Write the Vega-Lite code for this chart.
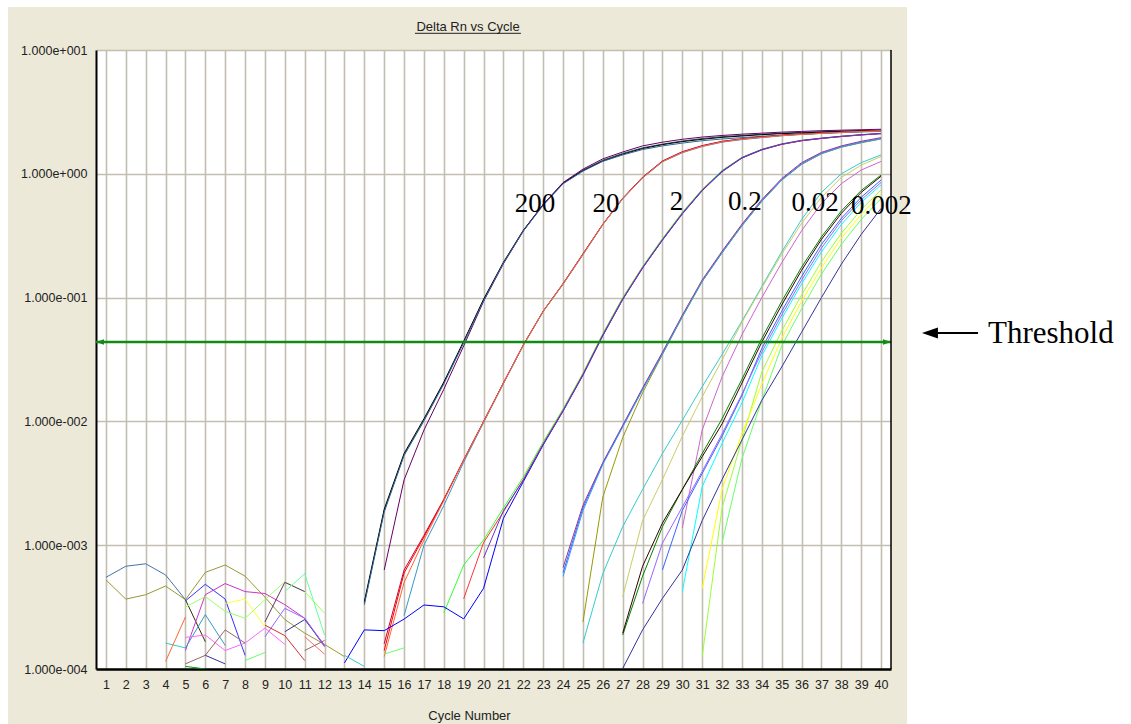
{
  "$schema": "https://vega.github.io/schema/vega-lite/v6.json",
  "autosize": "none",
  "width": 795,
  "height": 619,
  "padding": {"left": 96, "top": 50, "right": 240, "bottom": 55},
  "config": {
    "background": "#ECE9D8",
    "view": {"fill": "white", "stroke": null},
    "axis": {
      "grid": true,
      "gridColor": "#C2BEB2",
      "gridWidth": 1.6,
      "ticks": false,
      "domainColor": "black",
      "labelFont": "Liberation Sans",
      "labelFontSize": 12.5,
      "labelColor": "#222222",
      "titleFont": "Liberation Sans",
      "titleFontSize": 13,
      "titleFontWeight": "normal",
      "titleColor": "#222222"
    }
  },
  "resolve": {"axis": {"x": "independent", "y": "independent"}},
  "datasets": {
    "wells": [
      {"well":"A1","cycle":14,"dRn":3.4e-4},{"well":"A1","cycle":15,"dRn":1.9e-3},{"well":"A1","cycle":16,"dRn":5.37e-3},{"well":"A1","cycle":17,"dRn":0.0102},{"well":"A1","cycle":18,"dRn":0.0204},{"well":"A1","cycle":19,"dRn":0.0437},{"well":"A1","cycle":20,"dRn":0.0955},{"well":"A1","cycle":21,"dRn":0.191},{"well":"A1","cycle":22,"dRn":0.347},{"well":"A1","cycle":23,"dRn":0.562},{"well":"A1","cycle":24,"dRn":0.841},{"well":"A1","cycle":25,"dRn":1.072},{"well":"A1","cycle":26,"dRn":1.288},{"well":"A1","cycle":27,"dRn":1.462},{"well":"A1","cycle":28,"dRn":1.622},{"well":"A1","cycle":29,"dRn":1.738},{"well":"A1","cycle":30,"dRn":1.841},{"well":"A1","cycle":31,"dRn":1.928},{"well":"A1","cycle":32,"dRn":1.995},{"well":"A1","cycle":33,"dRn":2.042},{"well":"A1","cycle":34,"dRn":2.089},{"well":"A1","cycle":35,"dRn":2.128},{"well":"A1","cycle":36,"dRn":2.163},{"well":"A1","cycle":37,"dRn":2.188},{"well":"A1","cycle":38,"dRn":2.213},{"well":"A1","cycle":39,"dRn":2.239},{"well":"A1","cycle":40,"dRn":2.259},
      {"well":"A2","cycle":14,"dRn":3.5e-4},{"well":"A2","cycle":15,"dRn":1.95e-3},{"well":"A2","cycle":16,"dRn":5.5e-3},{"well":"A2","cycle":17,"dRn":0.0105},{"well":"A2","cycle":18,"dRn":0.0208},{"well":"A2","cycle":19,"dRn":0.0445},{"well":"A2","cycle":20,"dRn":0.097},{"well":"A2","cycle":21,"dRn":0.193},{"well":"A2","cycle":22,"dRn":0.35},{"well":"A2","cycle":23,"dRn":0.565},{"well":"A2","cycle":24,"dRn":0.84},{"well":"A2","cycle":25,"dRn":1.06},{"well":"A2","cycle":26,"dRn":1.27},{"well":"A2","cycle":27,"dRn":1.44},{"well":"A2","cycle":28,"dRn":1.6},{"well":"A2","cycle":29,"dRn":1.72},{"well":"A2","cycle":30,"dRn":1.82},{"well":"A2","cycle":31,"dRn":1.9},{"well":"A2","cycle":32,"dRn":1.97},{"well":"A2","cycle":33,"dRn":2.02},{"well":"A2","cycle":34,"dRn":2.07},{"well":"A2","cycle":35,"dRn":2.11},{"well":"A2","cycle":36,"dRn":2.14},{"well":"A2","cycle":37,"dRn":2.17},{"well":"A2","cycle":38,"dRn":2.2},{"well":"A2","cycle":39,"dRn":2.22},{"well":"A2","cycle":40,"dRn":2.24},
      {"well":"A3","cycle":15,"dRn":6.3e-4},{"well":"A3","cycle":16,"dRn":3.37e-3},{"well":"A3","cycle":17,"dRn":8.5e-3},{"well":"A3","cycle":18,"dRn":0.0182},{"well":"A3","cycle":19,"dRn":0.0407},{"well":"A3","cycle":20,"dRn":0.0933},{"well":"A3","cycle":21,"dRn":0.188},{"well":"A3","cycle":22,"dRn":0.345},{"well":"A3","cycle":23,"dRn":0.565},{"well":"A3","cycle":24,"dRn":0.85},{"well":"A3","cycle":25,"dRn":1.09},{"well":"A3","cycle":26,"dRn":1.32},{"well":"A3","cycle":27,"dRn":1.5},{"well":"A3","cycle":28,"dRn":1.68},{"well":"A3","cycle":29,"dRn":1.8},{"well":"A3","cycle":30,"dRn":1.9},{"well":"A3","cycle":31,"dRn":1.98},{"well":"A3","cycle":32,"dRn":2.04},{"well":"A3","cycle":33,"dRn":2.09},{"well":"A3","cycle":34,"dRn":2.13},{"well":"A3","cycle":35,"dRn":2.17},{"well":"A3","cycle":36,"dRn":2.2},{"well":"A3","cycle":37,"dRn":2.23},{"well":"A3","cycle":38,"dRn":2.25},{"well":"A3","cycle":39,"dRn":2.27},{"well":"A3","cycle":40,"dRn":2.29},
      {"well":"A4","cycle":14,"dRn":3.3e-4},{"well":"A4","cycle":15,"dRn":1.85e-3},{"well":"A4","cycle":16,"dRn":5.3e-3},{"well":"A4","cycle":17,"dRn":0.0101},{"well":"A4","cycle":18,"dRn":0.0201},{"well":"A4","cycle":19,"dRn":0.0432},{"well":"A4","cycle":20,"dRn":0.094},{"well":"A4","cycle":21,"dRn":0.19},{"well":"A4","cycle":22,"dRn":0.345},{"well":"A4","cycle":23,"dRn":0.556},{"well":"A4","cycle":24,"dRn":0.83},{"well":"A4","cycle":25,"dRn":1.05},{"well":"A4","cycle":26,"dRn":1.26},{"well":"A4","cycle":27,"dRn":1.42},{"well":"A4","cycle":28,"dRn":1.57},{"well":"A4","cycle":29,"dRn":1.68},{"well":"A4","cycle":30,"dRn":1.77},{"well":"A4","cycle":31,"dRn":1.85},{"well":"A4","cycle":32,"dRn":1.91},{"well":"A4","cycle":33,"dRn":1.96},{"well":"A4","cycle":34,"dRn":2.01},{"well":"A4","cycle":35,"dRn":2.05},{"well":"A4","cycle":36,"dRn":2.09},{"well":"A4","cycle":37,"dRn":2.12},{"well":"A4","cycle":38,"dRn":2.15},{"well":"A4","cycle":39,"dRn":2.18},{"well":"A4","cycle":40,"dRn":2.2},
      {"well":"B1","cycle":15,"dRn":1.41e-4},{"well":"B1","cycle":16,"dRn":5.96e-4},{"well":"B1","cycle":17,"dRn":1.164e-3},{"well":"B1","cycle":18,"dRn":2.317e-3},{"well":"B1","cycle":19,"dRn":4.875e-3},{"well":"B1","cycle":20,"dRn":9.95e-3},{"well":"B1","cycle":21,"dRn":0.0204},{"well":"B1","cycle":22,"dRn":0.0414},{"well":"B1","cycle":23,"dRn":0.0776},{"well":"B1","cycle":24,"dRn":0.129},{"well":"B1","cycle":25,"dRn":0.224},{"well":"B1","cycle":26,"dRn":0.39},{"well":"B1","cycle":27,"dRn":0.631},{"well":"B1","cycle":28,"dRn":0.933},{"well":"B1","cycle":29,"dRn":1.259},{"well":"B1","cycle":30,"dRn":1.496},{"well":"B1","cycle":31,"dRn":1.679},{"well":"B1","cycle":32,"dRn":1.82},{"well":"B1","cycle":33,"dRn":1.905},{"well":"B1","cycle":34,"dRn":1.972},{"well":"B1","cycle":35,"dRn":2.042},{"well":"B1","cycle":36,"dRn":2.089},{"well":"B1","cycle":37,"dRn":2.128},{"well":"B1","cycle":38,"dRn":2.168},{"well":"B1","cycle":39,"dRn":2.198},{"well":"B1","cycle":40,"dRn":2.228},
      {"well":"B2","cycle":15,"dRn":1.6e-4},{"well":"B2","cycle":16,"dRn":6.3e-4},{"well":"B2","cycle":17,"dRn":1.2e-3},{"well":"B2","cycle":18,"dRn":2.35e-3},{"well":"B2","cycle":19,"dRn":4.9e-3},{"well":"B2","cycle":20,"dRn":0.01},{"well":"B2","cycle":21,"dRn":0.0205},{"well":"B2","cycle":22,"dRn":0.0415},{"well":"B2","cycle":23,"dRn":0.0778},{"well":"B2","cycle":24,"dRn":0.13},{"well":"B2","cycle":25,"dRn":0.226},{"well":"B2","cycle":26,"dRn":0.392},{"well":"B2","cycle":27,"dRn":0.635},{"well":"B2","cycle":28,"dRn":0.94},{"well":"B2","cycle":29,"dRn":1.27},{"well":"B2","cycle":30,"dRn":1.51},{"well":"B2","cycle":31,"dRn":1.69},{"well":"B2","cycle":32,"dRn":1.83},{"well":"B2","cycle":33,"dRn":1.92},{"well":"B2","cycle":34,"dRn":1.99},{"well":"B2","cycle":35,"dRn":2.05},{"well":"B2","cycle":36,"dRn":2.1},{"well":"B2","cycle":37,"dRn":2.14},{"well":"B2","cycle":38,"dRn":2.17},{"well":"B2","cycle":39,"dRn":2.2},{"well":"B2","cycle":40,"dRn":2.23},
      {"well":"B3","cycle":16,"dRn":2.7e-4},{"well":"B3","cycle":17,"dRn":1.0e-3},{"well":"B3","cycle":18,"dRn":2.09e-3},{"well":"B3","cycle":19,"dRn":4.68e-3},{"well":"B3","cycle":20,"dRn":9.77e-3},{"well":"B3","cycle":21,"dRn":0.0202},{"well":"B3","cycle":22,"dRn":0.041},{"well":"B3","cycle":23,"dRn":0.0772},{"well":"B3","cycle":24,"dRn":0.128},{"well":"B3","cycle":25,"dRn":0.222},{"well":"B3","cycle":26,"dRn":0.388},{"well":"B3","cycle":27,"dRn":0.627},{"well":"B3","cycle":28,"dRn":0.925},{"well":"B3","cycle":29,"dRn":1.25},{"well":"B3","cycle":30,"dRn":1.48},{"well":"B3","cycle":31,"dRn":1.66},{"well":"B3","cycle":32,"dRn":1.8},{"well":"B3","cycle":33,"dRn":1.89},{"well":"B3","cycle":34,"dRn":1.96},{"well":"B3","cycle":35,"dRn":2.03},{"well":"B3","cycle":36,"dRn":2.08},{"well":"B3","cycle":37,"dRn":2.12},{"well":"B3","cycle":38,"dRn":2.16},{"well":"B3","cycle":39,"dRn":2.19},{"well":"B3","cycle":40,"dRn":2.22},
      {"well":"B4","cycle":15,"dRn":1.26e-4},{"well":"B4","cycle":16,"dRn":5.0e-4},{"well":"B4","cycle":17,"dRn":1.1e-3},{"well":"B4","cycle":18,"dRn":2.29e-3},{"well":"B4","cycle":19,"dRn":4.85e-3},{"well":"B4","cycle":20,"dRn":9.9e-3},{"well":"B4","cycle":21,"dRn":0.0203},{"well":"B4","cycle":22,"dRn":0.0412},{"well":"B4","cycle":23,"dRn":0.0774},{"well":"B4","cycle":24,"dRn":0.129},{"well":"B4","cycle":25,"dRn":0.223},{"well":"B4","cycle":26,"dRn":0.389},{"well":"B4","cycle":27,"dRn":0.63},{"well":"B4","cycle":28,"dRn":0.93},{"well":"B4","cycle":29,"dRn":1.255},{"well":"B4","cycle":30,"dRn":1.49},{"well":"B4","cycle":31,"dRn":1.67},{"well":"B4","cycle":32,"dRn":1.81},{"well":"B4","cycle":33,"dRn":1.9},{"well":"B4","cycle":34,"dRn":1.97},{"well":"B4","cycle":35,"dRn":2.03},{"well":"B4","cycle":36,"dRn":2.08},{"well":"B4","cycle":37,"dRn":2.12},{"well":"B4","cycle":38,"dRn":2.16},{"well":"B4","cycle":39,"dRn":2.19},{"well":"B4","cycle":40,"dRn":2.22},
      {"well":"D1","cycle":18,"dRn":2.84e-4},{"well":"D1","cycle":19,"dRn":6.92e-4},{"well":"D1","cycle":20,"dRn":1.1e-3},{"well":"D1","cycle":21,"dRn":2.0e-3},{"well":"D1","cycle":22,"dRn":3.55e-3},{"well":"D1","cycle":23,"dRn":6.84e-3},{"well":"D1","cycle":24,"dRn":0.0126},{"well":"D1","cycle":25,"dRn":0.0245},{"well":"D1","cycle":26,"dRn":0.0512},{"well":"D1","cycle":27,"dRn":0.1},{"well":"D1","cycle":28,"dRn":0.178},{"well":"D1","cycle":29,"dRn":0.3},{"well":"D1","cycle":30,"dRn":0.488},{"well":"D1","cycle":31,"dRn":0.75},{"well":"D1","cycle":32,"dRn":1.065},{"well":"D1","cycle":33,"dRn":1.36},{"well":"D1","cycle":34,"dRn":1.58},{"well":"D1","cycle":35,"dRn":1.745},{"well":"D1","cycle":36,"dRn":1.865},{"well":"D1","cycle":37,"dRn":1.94},{"well":"D1","cycle":38,"dRn":2.01},{"well":"D1","cycle":39,"dRn":2.07},{"well":"D1","cycle":40,"dRn":2.12},
      {"well":"D2","cycle":13,"dRn":1.12e-4},{"well":"D2","cycle":14,"dRn":2.07e-4},{"well":"D2","cycle":15,"dRn":2.04e-4},{"well":"D2","cycle":16,"dRn":2.53e-4},{"well":"D2","cycle":17,"dRn":3.29e-4},{"well":"D2","cycle":18,"dRn":3.18e-4},{"well":"D2","cycle":19,"dRn":2.54e-4},{"well":"D2","cycle":20,"dRn":4.49e-4},{"well":"D2","cycle":21,"dRn":1.65e-3},{"well":"D2","cycle":22,"dRn":3.26e-3},{"well":"D2","cycle":23,"dRn":6.45e-3},{"well":"D2","cycle":24,"dRn":0.0121},{"well":"D2","cycle":25,"dRn":0.0236},{"well":"D2","cycle":26,"dRn":0.0492},{"well":"D2","cycle":27,"dRn":0.0965},{"well":"D2","cycle":28,"dRn":0.173},{"well":"D2","cycle":29,"dRn":0.291},{"well":"D2","cycle":30,"dRn":0.474},{"well":"D2","cycle":31,"dRn":0.73},{"well":"D2","cycle":32,"dRn":1.04},{"well":"D2","cycle":33,"dRn":1.34},{"well":"D2","cycle":34,"dRn":1.56},{"well":"D2","cycle":35,"dRn":1.73},{"well":"D2","cycle":36,"dRn":1.85},{"well":"D2","cycle":37,"dRn":1.93},{"well":"D2","cycle":38,"dRn":2.0},{"well":"D2","cycle":39,"dRn":2.06},{"well":"D2","cycle":40,"dRn":2.11},
      {"well":"D3","cycle":19,"dRn":3.7e-4},{"well":"D3","cycle":20,"dRn":1.05e-3},{"well":"D3","cycle":21,"dRn":1.86e-3},{"well":"D3","cycle":22,"dRn":3.4e-3},{"well":"D3","cycle":23,"dRn":6.6e-3},{"well":"D3","cycle":24,"dRn":0.0123},{"well":"D3","cycle":25,"dRn":0.024},{"well":"D3","cycle":26,"dRn":0.0501},{"well":"D3","cycle":27,"dRn":0.0977},{"well":"D3","cycle":28,"dRn":0.175},{"well":"D3","cycle":29,"dRn":0.294},{"well":"D3","cycle":30,"dRn":0.479},{"well":"D3","cycle":31,"dRn":0.738},{"well":"D3","cycle":32,"dRn":1.05},{"well":"D3","cycle":33,"dRn":1.35},{"well":"D3","cycle":34,"dRn":1.57},{"well":"D3","cycle":35,"dRn":1.73},{"well":"D3","cycle":36,"dRn":1.85},{"well":"D3","cycle":37,"dRn":1.93},{"well":"D3","cycle":38,"dRn":2.0},{"well":"D3","cycle":39,"dRn":2.06},{"well":"D3","cycle":40,"dRn":2.11},
      {"well":"D4","cycle":20,"dRn":7.9e-4},{"well":"D4","cycle":21,"dRn":1.9e-3},{"well":"D4","cycle":22,"dRn":3.35e-3},{"well":"D4","cycle":23,"dRn":6.55e-3},{"well":"D4","cycle":24,"dRn":0.0122},{"well":"D4","cycle":25,"dRn":0.0238},{"well":"D4","cycle":26,"dRn":0.0497},{"well":"D4","cycle":27,"dRn":0.097},{"well":"D4","cycle":28,"dRn":0.174},{"well":"D4","cycle":29,"dRn":0.293},{"well":"D4","cycle":30,"dRn":0.478},{"well":"D4","cycle":31,"dRn":0.737},{"well":"D4","cycle":32,"dRn":1.05},{"well":"D4","cycle":33,"dRn":1.35},{"well":"D4","cycle":34,"dRn":1.57},{"well":"D4","cycle":35,"dRn":1.74},{"well":"D4","cycle":36,"dRn":1.86},{"well":"D4","cycle":37,"dRn":1.94},{"well":"D4","cycle":38,"dRn":2.01},{"well":"D4","cycle":39,"dRn":2.07},{"well":"D4","cycle":40,"dRn":2.12},
      {"well":"C1","cycle":24,"dRn":6.0e-4},{"well":"C1","cycle":25,"dRn":2.0e-3},{"well":"C1","cycle":26,"dRn":4.57e-3},{"well":"C1","cycle":27,"dRn":9.12e-3},{"well":"C1","cycle":28,"dRn":0.0182},{"well":"C1","cycle":29,"dRn":0.0355},{"well":"C1","cycle":30,"dRn":0.0708},{"well":"C1","cycle":31,"dRn":0.1365},{"well":"C1","cycle":32,"dRn":0.2323},{"well":"C1","cycle":33,"dRn":0.3846},{"well":"C1","cycle":34,"dRn":0.6067},{"well":"C1","cycle":35,"dRn":0.8974},{"well":"C1","cycle":36,"dRn":1.205},{"well":"C1","cycle":37,"dRn":1.466},{"well":"C1","cycle":38,"dRn":1.656},{"well":"C1","cycle":39,"dRn":1.799},{"well":"C1","cycle":40,"dRn":1.928},
      {"well":"C2","cycle":24,"dRn":6.6e-4},{"well":"C2","cycle":25,"dRn":2.1e-3},{"well":"C2","cycle":26,"dRn":4.65e-3},{"well":"C2","cycle":27,"dRn":9.3e-3},{"well":"C2","cycle":28,"dRn":0.0186},{"well":"C2","cycle":29,"dRn":0.0362},{"well":"C2","cycle":30,"dRn":0.0722},{"well":"C2","cycle":31,"dRn":0.139},{"well":"C2","cycle":32,"dRn":0.237},{"well":"C2","cycle":33,"dRn":0.392},{"well":"C2","cycle":34,"dRn":0.619},{"well":"C2","cycle":35,"dRn":0.915},{"well":"C2","cycle":36,"dRn":1.23},{"well":"C2","cycle":37,"dRn":1.49},{"well":"C2","cycle":38,"dRn":1.68},{"well":"C2","cycle":39,"dRn":1.83},{"well":"C2","cycle":40,"dRn":1.96},
      {"well":"C3","cycle":25,"dRn":2.4e-4},{"well":"C3","cycle":26,"dRn":2.45e-3},{"well":"C3","cycle":27,"dRn":7.4e-3},{"well":"C3","cycle":28,"dRn":0.017},{"well":"C3","cycle":29,"dRn":0.0347},{"well":"C3","cycle":30,"dRn":0.07},{"well":"C3","cycle":31,"dRn":0.135},{"well":"C3","cycle":32,"dRn":0.23},{"well":"C3","cycle":33,"dRn":0.381},{"well":"C3","cycle":34,"dRn":0.6},{"well":"C3","cycle":35,"dRn":0.888},{"well":"C3","cycle":36,"dRn":1.19},{"well":"C3","cycle":37,"dRn":1.45},{"well":"C3","cycle":38,"dRn":1.64},{"well":"C3","cycle":39,"dRn":1.78},{"well":"C3","cycle":40,"dRn":1.91},
      {"well":"C4","cycle":24,"dRn":5.6e-4},{"well":"C4","cycle":25,"dRn":1.9e-3},{"well":"C4","cycle":26,"dRn":4.5e-3},{"well":"C4","cycle":27,"dRn":9.0e-3},{"well":"C4","cycle":28,"dRn":0.018},{"well":"C4","cycle":29,"dRn":0.035},{"well":"C4","cycle":30,"dRn":0.07},{"well":"C4","cycle":31,"dRn":0.135},{"well":"C4","cycle":32,"dRn":0.23},{"well":"C4","cycle":33,"dRn":0.38},{"well":"C4","cycle":34,"dRn":0.6},{"well":"C4","cycle":35,"dRn":0.89},{"well":"C4","cycle":36,"dRn":1.195},{"well":"C4","cycle":37,"dRn":1.455},{"well":"C4","cycle":38,"dRn":1.645},{"well":"C4","cycle":39,"dRn":1.79},{"well":"C4","cycle":40,"dRn":1.92},
      {"well":"E1","cycle":25,"dRn":1.62e-4},{"well":"E1","cycle":26,"dRn":5.89e-4},{"well":"E1","cycle":27,"dRn":1.41e-3},{"well":"E1","cycle":28,"dRn":2.82e-3},{"well":"E1","cycle":29,"dRn":5.5e-3},{"well":"E1","cycle":30,"dRn":0.0102},{"well":"E1","cycle":31,"dRn":0.0191},{"well":"E1","cycle":32,"dRn":0.0347},{"well":"E1","cycle":33,"dRn":0.0646},{"well":"E1","cycle":34,"dRn":0.123},{"well":"E1","cycle":35,"dRn":0.234},{"well":"E1","cycle":36,"dRn":0.427},{"well":"E1","cycle":37,"dRn":0.708},{"well":"E1","cycle":38,"dRn":1.0},{"well":"E1","cycle":39,"dRn":1.23},{"well":"E1","cycle":40,"dRn":1.42},
      {"well":"E2","cycle":27,"dRn":3.84e-4},{"well":"E2","cycle":28,"dRn":1.58e-3},{"well":"E2","cycle":29,"dRn":3.39e-3},{"well":"E2","cycle":30,"dRn":7.59e-3},{"well":"E2","cycle":31,"dRn":0.0158},{"well":"E2","cycle":32,"dRn":0.0313},{"well":"E2","cycle":33,"dRn":0.0631},{"well":"E2","cycle":34,"dRn":0.12},{"well":"E2","cycle":35,"dRn":0.224},{"well":"E2","cycle":36,"dRn":0.398},{"well":"E2","cycle":37,"dRn":0.646},{"well":"E2","cycle":38,"dRn":0.933},{"well":"E2","cycle":39,"dRn":1.175},{"well":"E2","cycle":40,"dRn":1.38},
      {"well":"E3","cycle":30,"dRn":1.38e-3},{"well":"E3","cycle":31,"dRn":8.51e-3},{"well":"E3","cycle":32,"dRn":0.0229},{"well":"E3","cycle":33,"dRn":0.0501},{"well":"E3","cycle":34,"dRn":0.1},{"well":"E3","cycle":35,"dRn":0.191},{"well":"E3","cycle":36,"dRn":0.347},{"well":"E3","cycle":37,"dRn":0.575},{"well":"E3","cycle":38,"dRn":0.832},{"well":"E3","cycle":39,"dRn":1.072},{"well":"E3","cycle":40,"dRn":1.259},
      {"well":"E4","cycle":27,"dRn":1.88e-4},{"well":"E4","cycle":28,"dRn":5.62e-4},{"well":"E4","cycle":29,"dRn":1.41e-3},{"well":"E4","cycle":30,"dRn":2.82e-3},{"well":"E4","cycle":31,"dRn":5.5e-3},{"well":"E4","cycle":32,"dRn":0.0105},{"well":"E4","cycle":33,"dRn":0.0219},{"well":"E4","cycle":34,"dRn":0.0468},{"well":"E4","cycle":35,"dRn":0.0933},{"well":"E4","cycle":36,"dRn":0.176},{"well":"E4","cycle":37,"dRn":0.309},{"well":"E4","cycle":38,"dRn":0.501},{"well":"E4","cycle":39,"dRn":0.733},{"well":"E4","cycle":40,"dRn":0.977},
      {"well":"E5","cycle":27,"dRn":1.95e-4},{"well":"E5","cycle":28,"dRn":6.76e-4},{"well":"E5","cycle":29,"dRn":1.51e-3},{"well":"E5","cycle":30,"dRn":2.82e-3},{"well":"E5","cycle":31,"dRn":5.19e-3},{"well":"E5","cycle":32,"dRn":9.55e-3},{"well":"E5","cycle":33,"dRn":0.0204},{"well":"E5","cycle":34,"dRn":0.0437},{"well":"E5","cycle":35,"dRn":0.0871},{"well":"E5","cycle":36,"dRn":0.166},{"well":"E5","cycle":37,"dRn":0.295},{"well":"E5","cycle":38,"dRn":0.479},{"well":"E5","cycle":39,"dRn":0.708},{"well":"E5","cycle":40,"dRn":0.955},
      {"well":"E6","cycle":29,"dRn":6.31e-4},{"well":"E6","cycle":30,"dRn":1.91e-3},{"well":"E6","cycle":31,"dRn":3.8e-3},{"well":"E6","cycle":32,"dRn":7.59e-3},{"well":"E6","cycle":33,"dRn":0.0162},{"well":"E6","cycle":34,"dRn":0.0389},{"well":"E6","cycle":35,"dRn":0.0776},{"well":"E6","cycle":36,"dRn":0.148},{"well":"E6","cycle":37,"dRn":0.269},{"well":"E6","cycle":38,"dRn":0.437},{"well":"E6","cycle":39,"dRn":0.646},{"well":"E6","cycle":40,"dRn":0.891},
      {"well":"E7","cycle":28,"dRn":3.39e-4},{"well":"E7","cycle":29,"dRn":1.04e-3},{"well":"E7","cycle":30,"dRn":2.04e-3},{"well":"E7","cycle":31,"dRn":3.94e-3},{"well":"E7","cycle":32,"dRn":7.94e-3},{"well":"E7","cycle":33,"dRn":0.0166},{"well":"E7","cycle":34,"dRn":0.0363},{"well":"E7","cycle":35,"dRn":0.0724},{"well":"E7","cycle":36,"dRn":0.138},{"well":"E7","cycle":37,"dRn":0.251},{"well":"E7","cycle":38,"dRn":0.417},{"well":"E7","cycle":39,"dRn":0.617},{"well":"E7","cycle":40,"dRn":0.851},
      {"well":"E8","cycle":30,"dRn":4.22e-4},{"well":"E8","cycle":31,"dRn":2.97e-3},{"well":"E8","cycle":32,"dRn":6.65e-3},{"well":"E8","cycle":33,"dRn":0.0141},{"well":"E8","cycle":34,"dRn":0.0339},{"well":"E8","cycle":35,"dRn":0.0676},{"well":"E8","cycle":36,"dRn":0.129},{"well":"E8","cycle":37,"dRn":0.234},{"well":"E8","cycle":38,"dRn":0.389},{"well":"E8","cycle":39,"dRn":0.589},{"well":"E8","cycle":40,"dRn":0.813},
      {"well":"E9","cycle":31,"dRn":1.26e-4},{"well":"E9","cycle":32,"dRn":2.0e-3},{"well":"E9","cycle":33,"dRn":7.08e-3},{"well":"E9","cycle":34,"dRn":0.0251},{"well":"E9","cycle":35,"dRn":0.0537},{"well":"E9","cycle":36,"dRn":0.105},{"well":"E9","cycle":37,"dRn":0.195},{"well":"E9","cycle":38,"dRn":0.331},{"well":"E9","cycle":39,"dRn":0.513},{"well":"E9","cycle":40,"dRn":0.741},
      {"well":"E10","cycle":31,"dRn":4.47e-4},{"well":"E10","cycle":32,"dRn":2.82e-3},{"well":"E10","cycle":33,"dRn":7.94e-3},{"well":"E10","cycle":34,"dRn":0.02},{"well":"E10","cycle":35,"dRn":0.0468},{"well":"E10","cycle":36,"dRn":0.0933},{"well":"E10","cycle":37,"dRn":0.174},{"well":"E10","cycle":38,"dRn":0.302},{"well":"E10","cycle":39,"dRn":0.468},{"well":"E10","cycle":40,"dRn":0.692},
      {"well":"E11","cycle":32,"dRn":1.05e-3},{"well":"E11","cycle":33,"dRn":5.01e-3},{"well":"E11","cycle":34,"dRn":0.0148},{"well":"E11","cycle":35,"dRn":0.0407},{"well":"E11","cycle":36,"dRn":0.0813},{"well":"E11","cycle":37,"dRn":0.155},{"well":"E11","cycle":38,"dRn":0.269},{"well":"E11","cycle":39,"dRn":0.427},{"well":"E11","cycle":40,"dRn":0.631},
      {"well":"E12","cycle":27,"dRn":1.01e-4},{"well":"E12","cycle":28,"dRn":2.07e-4},{"well":"E12","cycle":29,"dRn":3.72e-4},{"well":"E12","cycle":30,"dRn":6.31e-4},{"well":"E12","cycle":31,"dRn":1.58e-3},{"well":"E12","cycle":32,"dRn":3.39e-3},{"well":"E12","cycle":33,"dRn":7.08e-3},{"well":"E12","cycle":34,"dRn":0.0148},{"well":"E12","cycle":35,"dRn":0.0275},{"well":"E12","cycle":36,"dRn":0.0525},{"well":"E12","cycle":37,"dRn":0.1},{"well":"E12","cycle":38,"dRn":0.186},{"well":"E12","cycle":39,"dRn":0.324},{"well":"E12","cycle":40,"dRn":0.525},
      {"well":"N1","cycle":1,"dRn":5.5e-4},{"well":"N1","cycle":2,"dRn":6.76e-4},{"well":"N1","cycle":3,"dRn":7.08e-4},{"well":"N1","cycle":4,"dRn":5.75e-4},{"well":"N1","cycle":5,"dRn":3.63e-4},
      {"well":"N2","cycle":1,"dRn":5.25e-4},{"well":"N2","cycle":2,"dRn":3.67e-4},{"well":"N2","cycle":3,"dRn":3.98e-4},{"well":"N2","cycle":4,"dRn":4.68e-4},{"well":"N2","cycle":5,"dRn":3.63e-4},{"well":"N2","cycle":6,"dRn":6.03e-4},{"well":"N2","cycle":7,"dRn":6.92e-4},{"well":"N2","cycle":8,"dRn":5.62e-4},{"well":"N2","cycle":9,"dRn":3.8e-4},{"well":"N2","cycle":10,"dRn":2.51e-4},{"well":"N2","cycle":11,"dRn":1.95e-4},{"well":"N2","cycle":12,"dRn":1.58e-4},{"well":"N2","cycle":13,"dRn":1.26e-4},
      {"well":"N3","cycle":5,"dRn":3.63e-4},{"well":"N3","cycle":6,"dRn":1.66e-4},
      {"well":"N4","cycle":5,"dRn":3.55e-4},{"well":"N4","cycle":6,"dRn":4.83e-4},{"well":"N4","cycle":7,"dRn":3.67e-4},{"well":"N4","cycle":8,"dRn":1.29e-4},
      {"well":"N5","cycle":5,"dRn":1.41e-4},{"well":"N5","cycle":6,"dRn":3.98e-4},{"well":"N5","cycle":7,"dRn":4.9e-4},{"well":"N5","cycle":8,"dRn":4.22e-4},{"well":"N5","cycle":9,"dRn":4.07e-4},{"well":"N5","cycle":10,"dRn":3.31e-4},{"well":"N5","cycle":11,"dRn":2.57e-4},{"well":"N5","cycle":12,"dRn":1.51e-4},
      {"well":"N6","cycle":5,"dRn":3.16e-4},{"well":"N6","cycle":6,"dRn":3.85e-4},{"well":"N6","cycle":7,"dRn":2.92e-4},{"well":"N6","cycle":8,"dRn":2.57e-4},{"well":"N6","cycle":9,"dRn":3.63e-4},{"well":"N6","cycle":10,"dRn":5.07e-4},{"well":"N6","cycle":11,"dRn":4.22e-4},{"well":"N6","cycle":12,"dRn":2.82e-4},
      {"well":"N7","cycle":7,"dRn":3.39e-4},{"well":"N7","cycle":8,"dRn":3.67e-4},{"well":"N7","cycle":9,"dRn":2.19e-4},
      {"well":"N8","cycle":5,"dRn":1.48e-4},{"well":"N8","cycle":6,"dRn":2.75e-4},{"well":"N8","cycle":7,"dRn":1.55e-4},
      {"well":"N9","cycle":4,"dRn":1.62e-4},{"well":"N9","cycle":5,"dRn":1.48e-4},
      {"well":"N10","cycle":13,"dRn":1.29e-4},{"well":"N10","cycle":14,"dRn":1.05e-4},
      {"well":"N11","cycle":4,"dRn":1.15e-4},{"well":"N11","cycle":5,"dRn":2.63e-4},
      {"well":"N12","cycle":5,"dRn":1.8e-4},{"well":"N12","cycle":6,"dRn":1.88e-4},{"well":"N12","cycle":7,"dRn":1.41e-4},{"well":"N12","cycle":8,"dRn":1.62e-4},{"well":"N12","cycle":9,"dRn":2.14e-4},{"well":"N12","cycle":10,"dRn":1.58e-4},
      {"well":"N13","cycle":5,"dRn":1.1e-4},{"well":"N13","cycle":6,"dRn":1.29e-4},{"well":"N13","cycle":7,"dRn":2.07e-4},{"well":"N13","cycle":8,"dRn":1.62e-4},
      {"well":"N14","cycle":9,"dRn":2.4e-4},{"well":"N14","cycle":10,"dRn":5.01e-4},{"well":"N14","cycle":11,"dRn":4.22e-4},
      {"well":"N15","cycle":6,"dRn":1.29e-4},{"well":"N15","cycle":7,"dRn":1.1e-4},
      {"well":"N16","cycle":10,"dRn":2.0e-4},{"well":"N16","cycle":11,"dRn":2.51e-4},{"well":"N16","cycle":12,"dRn":1.55e-4},
      {"well":"N17","cycle":5,"dRn":1.05e-4},{"well":"N17","cycle":6,"dRn":1.0e-4},
      {"well":"N18","cycle":8,"dRn":1.17e-4},{"well":"N18","cycle":9,"dRn":1.36e-4},
      {"well":"N19","cycle":9,"dRn":1.82e-4},{"well":"N19","cycle":10,"dRn":3.09e-4},{"well":"N19","cycle":11,"dRn":2.57e-4},{"well":"N19","cycle":12,"dRn":1.55e-4},
      {"well":"N20","cycle":9,"dRn":2.26e-4},{"well":"N20","cycle":10,"dRn":1.86e-4},{"well":"N20","cycle":11,"dRn":1.17e-4},
      {"well":"N21","cycle":10,"dRn":4.22e-4},{"well":"N21","cycle":11,"dRn":5.89e-4},{"well":"N21","cycle":12,"dRn":1.88e-4},
      {"well":"N22","cycle":11,"dRn":1.82e-4},{"well":"N22","cycle":12,"dRn":1.32e-4},
      {"well":"N23","cycle":11,"dRn":1.41e-4},{"well":"N23","cycle":12,"dRn":1.7e-4},
      {"well":"N24","cycle":15,"dRn":1.32e-4},{"well":"N24","cycle":16,"dRn":1.48e-4}
    ],
    "dilutions": [
      {"label":"200","cycle":22.59,"dRn":0.491},
      {"label":"20","cycle":26.16,"dRn":0.491},
      {"label":"2","cycle":29.71,"dRn":0.51},
      {"label":"0.2","cycle":33.15,"dRn":0.51},
      {"label":"0.02","cycle":36.68,"dRn":0.5},
      {"label":"0.002","cycle":40.02,"dRn":0.473}
    ]
  },
  "layer": [
    {
      "data": {"name": "wells"},
      "mark": {"type": "line", "strokeWidth": 1, "clip": true},
      "encoding": {
        "x": {
          "field": "cycle", "type": "quantitative",
          "scale": {"domain": [0.5, 40.5], "nice": false, "zero": false},
          "axis": {
            "orient": "bottom",
            "values": [1,2,3,4,5,6,7,8,9,10,11,12,13,14,15,16,17,18,19,20,21,22,23,24,25,26,27,28,29,30,31,32,33,34,35,36,37,38,39,40],
            "title": "Cycle Number",
            "titleX": 373,
            "titleY": 46,
            "titleAlign": "center",
            "titleBaseline": "middle",
            "labelPadding": 9,
            "domainWidth": 2.5,
            "labelFlush": false,
            "labelOverlap": false
          }
        },
        "y": {
          "field": "dRn", "type": "quantitative",
          "scale": {"type": "log", "domain": [0.0001, 10], "nice": false},
          "axis": {
            "orient": "left",
            "values": [0.0001, 0.001, 0.01, 0.1, 1, 10],
            "title": null,
            "labelPadding": 9,
            "domainWidth": 2,
            "labelFlush": false,
            "labelExpr": "datum.value > 5 ? '1.000e+001' : datum.value > 0.5 ? '1.000e+000' : datum.value > 0.05 ? '1.000e-001' : datum.value > 0.005 ? '1.000e-002' : datum.value > 0.0005 ? '1.000e-003' : '1.000e-004'"
          }
        },
        "color": {
          "field": "well", "type": "nominal", "legend": null,
          "scale": {
            "domain": ["A1","A2","A3","A4","B1","B2","B3","B4","D1","D2","D3","D4","C1","C2","C3","C4","E1","E2","E3","E4","E5","E6","E7","E8","E9","E10","E11","E12","N1","N2","N3","N4","N5","N6","N7","N8","N9","N10","N11","N12","N13","N14","N15","N16","N17","N18","N19","N20","N21","N22","N23","N24"],
            "range": ["#2F5F5F","#000000","#660066","#336699","#FF0000","#CC0033","#3399CC","#FF6633","#33FF33","#0000FF","#FF3333","#6633CC","#3366FF","#993399","#999900","#3399FF","#33CCCC","#CCCC66","#CC66CC","#008000","#330000","#3366FF","#9966FF","#00FFFF","#99FF33","#FFFF00","#66FF66","#333399","#4477AA","#999933","#333300","#3333FF","#CC33CC","#99FF66","#FFFF33","#3399CC","#33CCCC","#33CCCC","#FF6633","#FF66FF","#996666","#663366","#333399","#333399","#009900","#66FF66","#9966FF","#CC3333","#66FF99","#FF6666","#996666","#66FF66"]
          }
        },
        "order": {"field": "cycle", "type": "quantitative"}
      }
    },
    {
      "data": {"values": [{}]},
      "mark": {"type": "rect", "fill": "white"},
      "encoding": {
        "x": {"datum": 41.31, "type": "quantitative", "axis": null, "scale": {"domain": [0.5, 40.5], "nice": false, "zero": false}},
        "x2": {"datum": 70},
        "y": {"datum": 1e-7, "type": "quantitative", "axis": null, "scale": {"type": "log", "domain": [0.0001, 10], "nice": false}},
        "y2": {"datum": 1000}
      }
    },
    {
      "data": {"values": [{}]},
      "mark": {"type": "rect", "fill": "white"},
      "encoding": {
        "x": {"datum": -10, "type": "quantitative", "axis": null, "scale": {"domain": [0.5, 40.5], "nice": false, "zero": false}},
        "x2": {"datum": 70},
        "y": {"datum": 22.25, "type": "quantitative", "axis": null, "scale": {"type": "log", "domain": [0.0001, 10], "nice": false}},
        "y2": {"datum": 1000}
      }
    },
    {
      "data": {"values": [{}]},
      "mark": {"type": "rect", "fill": "white"},
      "encoding": {
        "x": {"datum": -10, "type": "quantitative", "axis": null, "scale": {"domain": [0.5, 40.5], "nice": false, "zero": false}},
        "x2": {"datum": -3.93},
        "y": {"datum": 1e-7, "type": "quantitative", "axis": null, "scale": {"type": "log", "domain": [0.0001, 10], "nice": false}},
        "y2": {"datum": 1000}
      }
    },
    {
      "data": {"values": [{}]},
      "mark": {"type": "rule", "color": "#138A13", "strokeWidth": 2.5},
      "encoding": {
        "x": {"datum": 0.5, "type": "quantitative", "axis": null, "scale": {"domain": [0.5, 40.5], "nice": false, "zero": false}},
        "x2": {"datum": 40.5},
        "y": {"datum": 0.0438, "type": "quantitative", "axis": null, "scale": {"type": "log", "domain": [0.0001, 10], "nice": false}}
      }
    },
    {
      "data": {"values": [{}]},
      "mark": {"type": "point", "filled": true, "color": "#138A13", "opacity": 1, "size": 64, "shape": "M1,0L-1,-0.7L-1,0.7Z"},
      "encoding": {
        "x": {"datum": 40.3, "type": "quantitative", "axis": null, "scale": {"domain": [0.5, 40.5], "nice": false, "zero": false}},
        "y": {"datum": 0.0438, "type": "quantitative", "axis": null, "scale": {"type": "log", "domain": [0.0001, 10], "nice": false}}
      }
    },
    {
      "data": {"values": [{}]},
      "mark": {"type": "point", "filled": true, "color": "#138A13", "opacity": 1, "size": 64, "shape": "M-1,0L1,-0.7L1,0.7Z"},
      "encoding": {
        "x": {"datum": 0.7, "type": "quantitative", "axis": null, "scale": {"domain": [0.5, 40.5], "nice": false, "zero": false}},
        "y": {"datum": 0.0438, "type": "quantitative", "axis": null, "scale": {"type": "log", "domain": [0.0001, 10], "nice": false}}
      }
    },
    {
      "data": {"values": [{}]},
      "mark": {"type": "rule", "color": "black", "strokeWidth": 1.5},
      "encoding": {
        "x": {"datum": 40.5, "type": "quantitative", "axis": null, "scale": {"domain": [0.5, 40.5], "nice": false, "zero": false}},
        "y": {"datum": 0.0001, "type": "quantitative", "axis": null, "scale": {"type": "log", "domain": [0.0001, 10], "nice": false}},
        "y2": {"datum": 10}
      }
    },
    {
      "data": {"name": "dilutions"},
      "mark": {"type": "text", "font": "Liberation Serif", "fontSize": 27, "align": "center", "baseline": "alphabetic", "color": "black"},
      "encoding": {
        "x": {"field": "cycle", "type": "quantitative", "axis": null, "scale": {"domain": [0.5, 40.5], "nice": false, "zero": false}},
        "y": {"field": "dRn", "type": "quantitative", "axis": null, "scale": {"type": "log", "domain": [0.0001, 10], "nice": false}},
        "text": {"field": "label"}
      }
    },
    {
      "data": {"values": [{}]},
      "mark": {"type": "text", "text": "Delta Rn vs Cycle", "font": "Liberation Sans", "fontSize": 13, "align": "center", "baseline": "alphabetic", "color": "#222222"},
      "encoding": {
        "x": {"datum": 19.22, "type": "quantitative", "axis": null, "scale": {"domain": [0.5, 40.5], "nice": false, "zero": false}},
        "y": {"datum": 14.24, "type": "quantitative", "axis": null, "scale": {"type": "log", "domain": [0.0001, 10], "nice": false}}
      }
    },
    {
      "data": {"values": [{}]},
      "mark": {"type": "rule", "color": "#222222", "strokeWidth": 1},
      "encoding": {
        "x": {"datum": 16.55, "type": "quantitative", "axis": null, "scale": {"domain": [0.5, 40.5], "nice": false, "zero": false}},
        "x2": {"datum": 21.88},
        "y": {"datum": 13.64, "type": "quantitative", "axis": null, "scale": {"type": "log", "domain": [0.0001, 10], "nice": false}}
      }
    },
    {
      "data": {"values": [{}]},
      "mark": {"type": "rule", "color": "black", "strokeWidth": 2},
      "encoding": {
        "x": {"datum": 42.86, "type": "quantitative", "axis": null, "scale": {"domain": [0.5, 40.5], "nice": false, "zero": false}},
        "x2": {"datum": 44.88},
        "y": {"datum": 0.0518, "type": "quantitative", "axis": null, "scale": {"type": "log", "domain": [0.0001, 10], "nice": false}}
      }
    },
    {
      "data": {"values": [{}]},
      "mark": {"type": "point", "filled": true, "color": "black", "opacity": 1, "size": 256, "shape": "M-1,0L1,-0.69L1,0.69Z"},
      "encoding": {
        "x": {"datum": 42.46, "type": "quantitative", "axis": null, "scale": {"domain": [0.5, 40.5], "nice": false, "zero": false}},
        "y": {"datum": 0.0518, "type": "quantitative", "axis": null, "scale": {"type": "log", "domain": [0.0001, 10], "nice": false}}
      }
    },
    {
      "data": {"values": [{}]},
      "mark": {"type": "text", "text": "Threshold", "font": "Liberation Serif", "fontSize": 31, "align": "left", "baseline": "alphabetic", "color": "black"},
      "encoding": {
        "x": {"datum": 45.38, "type": "quantitative", "axis": null, "scale": {"domain": [0.5, 40.5], "nice": false, "zero": false}},
        "y": {"datum": 0.0432, "type": "quantitative", "axis": null, "scale": {"type": "log", "domain": [0.0001, 10], "nice": false}}
      }
    }
  ]
}
